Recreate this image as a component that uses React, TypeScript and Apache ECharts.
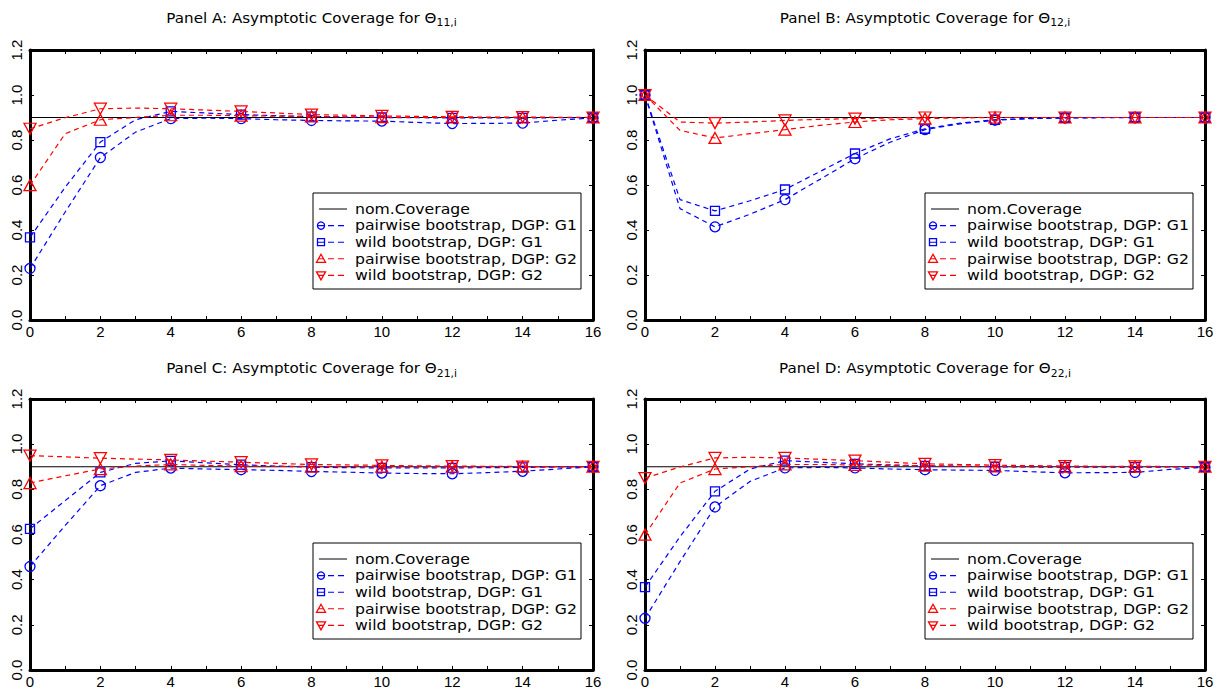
import React, { useEffect, useRef } from "react";
import * as echarts from "echarts";

// ---------------- data ----------------
const xValues = [0, 1, 2, 3, 4, 5, 6, 7, 8, 9, 10, 11, 12, 13, 14, 15, 16];
const nominalCoverage = 0.9;
const nominalName = "nom.Coverage";

const panelTitles = [
  "Panel A: Asymptotic Coverage for Θ",
  "Panel B: Asymptotic Coverage for Θ",
  "Panel C: Asymptotic Coverage for Θ",
  "Panel D: Asymptotic Coverage for Θ",
];
const panelSubscripts = ["11,i", "12,i", "21,i", "22,i"];

const seriesNames = [
  "pairwise bootstrap, DGP: G1",
  "wild bootstrap, DGP: G1",
  "pairwise bootstrap, DGP: G2",
  "wild bootstrap, DGP: G2",
];

// Panel A
const panelA_pairwiseG1 = [0.229, 0.48, 0.722, 0.835, 0.895, 0.897, 0.895, 0.89, 0.887, 0.885, 0.884, 0.878, 0.873, 0.874, 0.875, 0.888, 0.898];
const panelA_wildG1 = [0.367, 0.59, 0.791, 0.89, 0.927, 0.92, 0.913, 0.908, 0.904, 0.902, 0.9, 0.899, 0.898, 0.898, 0.898, 0.899, 0.9];
const panelA_pairwiseG2 = [0.599, 0.828, 0.89, 0.9, 0.91, 0.91, 0.908, 0.906, 0.905, 0.903, 0.902, 0.9, 0.9, 0.9, 0.9, 0.9, 0.9];
const panelA_wildG2 = [0.85, 0.899, 0.939, 0.942, 0.939, 0.933, 0.927, 0.92, 0.913, 0.91, 0.907, 0.905, 0.903, 0.902, 0.902, 0.901, 0.9];

// Panel B
const panelB_pairwiseG1 = [1.0, 0.495, 0.414, 0.47, 0.535, 0.625, 0.717, 0.79, 0.846, 0.872, 0.888, 0.895, 0.898, 0.899, 0.9, 0.9, 0.9];
const panelB_wildG1 = [1.0, 0.535, 0.485, 0.53, 0.58, 0.66, 0.74, 0.805, 0.85, 0.875, 0.89, 0.896, 0.899, 0.9, 0.9, 0.9, 0.9];
const panelB_pairwiseG2 = [1.0, 0.843, 0.809, 0.828, 0.846, 0.865, 0.88, 0.89, 0.895, 0.898, 0.9, 0.9, 0.9, 0.9, 0.9, 0.9, 0.9];
const panelB_wildG2 = [1.0, 0.88, 0.875, 0.88, 0.887, 0.892, 0.895, 0.898, 0.9, 0.9, 0.9, 0.9, 0.9, 0.9, 0.9, 0.9, 0.9];

// Panel C
const panelC_pairwiseG1 = [0.458, 0.64, 0.816, 0.875, 0.894, 0.89, 0.887, 0.884, 0.879, 0.876, 0.872, 0.87, 0.869, 0.874, 0.88, 0.89, 0.9];
const panelC_wildG1 = [0.625, 0.75, 0.875, 0.915, 0.926, 0.917, 0.909, 0.903, 0.898, 0.896, 0.895, 0.895, 0.895, 0.896, 0.897, 0.899, 0.9];
const panelC_pairwiseG2 = [0.828, 0.86, 0.89, 0.903, 0.91, 0.906, 0.903, 0.902, 0.901, 0.9, 0.9, 0.9, 0.9, 0.9, 0.9, 0.9, 0.9];
const panelC_wildG2 = [0.949, 0.944, 0.938, 0.934, 0.93, 0.925, 0.92, 0.915, 0.91, 0.908, 0.906, 0.904, 0.903, 0.902, 0.901, 0.9, 0.9];

// Panel D
const panelD_pairwiseG1 = [0.229, 0.48, 0.722, 0.835, 0.895, 0.897, 0.895, 0.89, 0.887, 0.885, 0.884, 0.878, 0.873, 0.874, 0.875, 0.888, 0.898];
const panelD_wildG1 = [0.367, 0.59, 0.791, 0.89, 0.927, 0.92, 0.913, 0.908, 0.904, 0.902, 0.9, 0.899, 0.898, 0.898, 0.898, 0.899, 0.9];
const panelD_pairwiseG2 = [0.599, 0.828, 0.89, 0.9, 0.91, 0.91, 0.908, 0.906, 0.905, 0.903, 0.902, 0.9, 0.9, 0.9, 0.9, 0.9, 0.9];
const panelD_wildG2 = [0.85, 0.899, 0.939, 0.942, 0.939, 0.933, 0.927, 0.92, 0.913, 0.91, 0.907, 0.905, 0.903, 0.902, 0.902, 0.901, 0.9];

const panelData = [
  [panelA_pairwiseG1, panelA_wildG1, panelA_pairwiseG2, panelA_wildG2],
  [panelB_pairwiseG1, panelB_wildG1, panelB_pairwiseG2, panelB_wildG2],
  [panelC_pairwiseG1, panelC_wildG1, panelC_pairwiseG2, panelC_wildG2],
  [panelD_pairwiseG1, panelD_wildG1, panelD_pairwiseG2, panelD_wildG2],
];

// ---------------- styles / layout ----------------
const BLUE = "#0000ff";
const RED = "#ff0000";
const seriesStyles = [
  { color: BLUE, symbol: "circle", size: 10, rotate: 0 },
  { color: BLUE, symbol: "rect", size: 9, rotate: 0 },
  { color: RED, symbol: "triangle", size: [12, 11], rotate: 0 },
  { color: RED, symbol: "triangle", size: [12, 11], rotate: 180 },
];

const grids = [
  { left: 30, top: 50, width: 563, height: 270 },
  { left: 645, top: 50, width: 560, height: 270 },
  { left: 30, top: 399, width: 563, height: 271 },
  { left: 645, top: 399, width: 560, height: 271 },
];
const titleY = [17.5, 17.5, 368, 368];

const TICK_FONT = '"Liberation Sans", Arial, sans-serif';
const TEXT_FONT = '"DejaVu Sans", sans-serif';

function buildOption() {
  const xAxis: any[] = [];
  const yAxis: any[] = [];
  const series: any[] = [];
  const graphic: any[] = [];

  grids.forEach((g, gi) => {
    const axisLine = { show: true, onZero: false, lineStyle: { color: "#000", width: 3 } };
    xAxis.push({
      type: "value", gridIndex: gi, position: "bottom", min: 0, max: 16, interval: 2,
      axisLine, splitLine: { show: false },
      axisTick: { show: true, inside: true, length: 4, lineStyle: { color: "#000", width: 1 } },
      minorTick: { show: true, splitNumber: 2, length: 4, lineStyle: { color: "#000", width: 1 } },
      axisLabel: { show: true, margin: 4, fontSize: 15, fontFamily: TICK_FONT, color: "#000", formatter: (v: number) => String(v) },
    });
    xAxis.push({
      type: "value", gridIndex: gi, position: "top", min: 0, max: 16, interval: 2,
      axisLine, splitLine: { show: false },
      axisTick: { show: true, inside: true, length: 4, lineStyle: { color: "#000", width: 1 } },
      minorTick: { show: true, splitNumber: 2, length: 4, lineStyle: { color: "#000", width: 1 } },
      axisLabel: { show: false },
    });
    yAxis.push({
      type: "value", gridIndex: gi, position: "left", min: 0, max: 1.2, interval: 0.2,
      axisLine, splitLine: { show: false },
      axisTick: { show: true, inside: true, length: 4, lineStyle: { color: "#000", width: 1 } },
      axisLabel: { show: true, rotate: 90, margin: 6, fontSize: 15, fontFamily: TICK_FONT, color: "#000", formatter: (v: number) => v.toFixed(1) },
    });
    yAxis.push({
      type: "value", gridIndex: gi, position: "right", min: 0, max: 1.2, interval: 0.2,
      axisLine, splitLine: { show: false },
      axisTick: { show: true, inside: true, length: 4, lineStyle: { color: "#000", width: 1 } },
      axisLabel: { show: false },
    });

    // nominal coverage line
    series.push({
      type: "line", name: nominalName, xAxisIndex: gi * 2, yAxisIndex: gi * 2,
      data: [[xValues[0], nominalCoverage], [xValues[xValues.length - 1], nominalCoverage]],
      symbol: "none", lineStyle: { color: "#000", width: 1.2, type: "solid" }, z: 2,
    });

    panelData[gi].forEach((vals, si) => {
      const st = seriesStyles[si];
      series.push({
        type: "line", name: seriesNames[si], xAxisIndex: gi * 2, yAxisIndex: gi * 2,
        data: vals.map((v, i) => ({
          value: [xValues[i], v],
          symbol: xValues[i] % 2 === 0 ? st.symbol : "none",
        })),
        showAllSymbol: true,
        symbolSize: st.size,
        symbolRotate: st.rotate,
        lineStyle: { color: st.color, width: 1.2, type: [5, 4] },
        itemStyle: { color: "rgba(255,255,255,0)", borderColor: st.color, borderWidth: 1.3 },
        z: 3 + si,
      });
    });

    // title
    graphic.push({
      type: "text",
      x: g.left + g.width / 2,
      y: titleY[gi],
      scaleX: 1.08,
      style: {
        text: `{a|${panelTitles[gi]}}{s|${panelSubscripts[gi]}}`,
        align: "center",
        verticalAlign: "middle",
        fill: "#000",
        rich: {
          a: { fontSize: 14, fontFamily: TEXT_FONT, lineHeight: 20, verticalAlign: "middle", fill: "#000" },
          s: { fontSize: 10, fontFamily: TEXT_FONT, lineHeight: 10, verticalAlign: "bottom", fill: "#000" },
        },
      },
    });

    // legend box
    const w = 268;
    const h = 96;
    const lx = g.left + g.width - 12 - w;
    const ly = g.top + g.height - 31 - h;
    const children: any[] = [
      { type: "rect", shape: { x: 0, y: 0, width: w, height: h }, style: { fill: "#fff", stroke: "#000", lineWidth: 1 } },
    ];
    const rowY = (i: number) => 16 + i * 16.6;
    const textX = 42;
    // nominal row
    children.push({ type: "line", shape: { x1: 6, y1: rowY(0), x2: 34, y2: rowY(0) }, style: { stroke: "#000", lineWidth: 1 } });
    children.push({
      type: "text", x: textX, y: rowY(0), scaleX: 1.12,
      style: { text: nominalName, fontSize: 14, fontFamily: TEXT_FONT, fill: "#000", align: "left", verticalAlign: "middle" },
    });
    seriesNames.forEach((name, si) => {
      const st = seriesStyles[si];
      const y = rowY(si + 1);
      const mx = 8;
      children.push({ type: "line", shape: { x1: 5, y1: y, x2: 35, y2: y }, style: { stroke: st.color, lineWidth: 1.1, lineDash: [6, 4] } });
      const mstyle = { fill: "none", stroke: st.color, lineWidth: 1.3 };
      if (si === 0) children.push({ type: "circle", shape: { cx: mx, cy: y, r: 3.6 }, style: mstyle });
      else if (si === 1) children.push({ type: "rect", shape: { x: mx - 3.5, y: y - 3.5, width: 7, height: 7 }, style: mstyle });
      else if (si === 2) children.push({ type: "polygon", shape: { points: [[mx, y - 4.5], [mx - 4.5, y + 3.5], [mx + 4.5, y + 3.5]] }, style: mstyle });
      else children.push({ type: "polygon", shape: { points: [[mx, y + 4.5], [mx - 4.5, y - 3.5], [mx + 4.5, y - 3.5]] }, style: mstyle });
      children.push({
        type: "text", x: textX, y, scaleX: 1.12,
        style: { text: name, fontSize: 14, fontFamily: TEXT_FONT, fill: "#000", align: "left", verticalAlign: "middle" },
      });
    });
    graphic.push({ type: "group", x: lx, y: ly, children, z: 50 });
  });

  return {
    animation: false,
    backgroundColor: "#ffffff",
    grid: grids.map((g) => ({ ...g, containLabel: false })),
    xAxis,
    yAxis,
    series,
    graphic,
  };
}

export default function App() {
  const ref = useRef<HTMLDivElement>(null);
  useEffect(() => {
    if (!ref.current) return;
    const chart = echarts.init(ref.current, undefined, { renderer: "svg" });
    chart.setOption(buildOption() as any);
    return () => chart.dispose();
  }, []);
  return (
    <div
      ref={ref}
      style={{ position: "fixed", left: 0, top: 0, width: 1223, height: 692, background: "#fff" }}
    />
  );
}
